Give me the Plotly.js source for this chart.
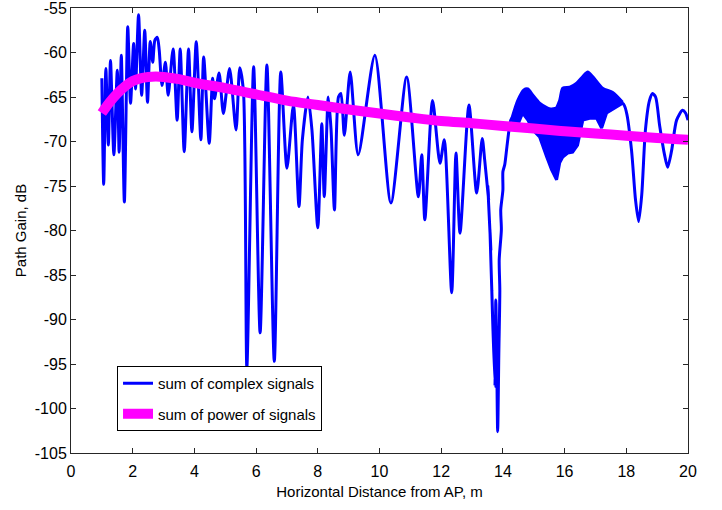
<!DOCTYPE html>
<html>
<head>
<meta charset="utf-8">
<script src="https://cdn.plot.ly/plotly-3.0.1.min.js"></script>
<style>
  html, body { margin: 0; padding: 0; background: #fff; }
  #chart { width: 722px; height: 510px; }
</style>
</head>
<body>
<div id="chart"></div>
<script>
// ---- Data ----
// Blue: "sum of complex signals" (peaks and troughs)
const complexX = [
  1.00,1.06,1.13,1.21,1.28,1.39,1.50,1.56,1.63,1.73,1.84,1.93,2.03,2.09,2.19,2.29,2.39,2.48,2.57,2.65,
  2.72,2.80,2.86,2.95,3.06,3.15,3.31,3.44,3.54,3.67,3.81,3.92,4.06,4.21,4.30,4.48,4.59,4.65,4.80,4.94,
  5.14,5.35,5.47,5.59,5.70,5.92,6.13,6.35,6.59,6.80,7.00,7.21,7.39,7.50,7.68,7.81,8.00,8.13,8.21,8.34,
  8.43,8.54,8.67,8.75,8.86,9.05,9.31,9.85,10.37,10.88,11.26,11.37,11.47,11.72,11.96,12.10,12.34,12.48,12.61,12.90,
  13.15,13.33,
  13.41,13.54,13.51,13.61,13.58,13.67,13.64,13.74,13.77,13.80,13.83,13.87,13.90,13.88,13.95,13.93,14.00,14.00,14.06,14.13,
  14.22,14.29,
  17.88,18.01,18.17,18.30,18.40,18.50,18.62,18.75,18.85,18.95,19.08,19.24,19.34,19.47,19.63,19.82,19.92,20.00
];
const complexY = [
  -62.9,-74.8,-61.8,-70.4,-60.9,-71.5,-62.0,-71.2,-60.3,-76.8,-57.1,-65.7,-59.0,-64.1,-55.75,-64.8,-57.5,-65.6,-58.75,-61.1,
  -58.6,-58.3,-59.75,-63.7,-61.1,-64.8,-59.6,-67.6,-59.6,-71.15,-59.6,-68.9,-58.8,-69.8,-60.5,-70.2,-62.9,-65.2,-62.3,-66.85,
  -61.8,-68.7,-61.7,-64.35,-95.4,-61.6,-91.5,-61.4,-94.7,-62.2,-73.0,-65.9,-77.3,-69.8,-65.0,-68.7,-79.7,-68.0,-76.2,-65.0,
  -68.7,-77.7,-65.0,-64.6,-69.3,-62.2,-71.5,-60.3,-76.9,-62.75,-76.2,-71.5,-78.8,-65.4,-72.45,-69.8,-87.0,-71.3,-80.3,-65.9,
  -75.8,-69.65,
  -72.1,-76.6,-74.9,-82.2,-79.9,-90.0,-86.7,-97.5,-87.8,-94.5,-102.6,-93.4,-86.7,-83.3,-79.9,-77.7,-75.45,-73.4,-72.6,-70.6,
  -68.2,-67.4,
  -65.7,-66.8,-71.0,-76.6,-79.0,-76.0,-68.7,-65.4,-64.6,-65.0,-68.2,-71.5,-72.9,-71.0,-67.6,-66.5,-66.8,-67.6
];

// Dense-oscillation band of the blue curve (upper and lower envelopes)
const bandUpperX = [14.29,14.48,14.68,14.81,14.97,15.19,15.45,15.68,15.84,15.94,16.17,16.39,16.59,16.75,16.91,17.23,17.56,17.88];
const bandUpperY = [-67.4,-65.4,-64.2,-64.1,-64.8,-65.7,-66.25,-66.5,-65.4,-64.0,-63.9,-63.45,-62.7,-62.2,-62.7,-64.0,-64.5,-65.6];
const bandLowerX = [14.29,14.45,14.64,14.81,14.97,15.19,15.42,15.58,15.74,15.84,15.94,16.10,16.26,16.42,16.59,16.81,17.04,17.20,17.36,17.69,17.88];
const bandLowerY = [-68.2,-68.4,-66.8,-67.6,-68.7,-69.5,-71.75,-73.2,-74.3,-72.4,-71.75,-71.3,-71.2,-70.4,-67.6,-67.4,-67.4,-68.5,-66.8,-66.1,-65.7];

// Magenta: "sum of power of signals"
const powerX = [1,1.25,1.5,1.75,2,2.25,2.5,2.75,3,3.5,4,5,6,7,8,9,10,11,12,13,14,15,16,17,18,19,20];
const powerY = [-66.8,-65.6,-64.6,-63.8,-63.2,-62.9,-62.75,-62.7,-62.75,-63.0,-63.4,-64.0,-64.7,-65.4,-65.9,-66.4,-66.85,-67.3,-67.7,-67.95,-68.25,-68.55,-68.85,-69.1,-69.35,-69.6,-69.8];

// Axis ticks
const xTicks = [0,2,4,6,8,10,12,14,16,18,20];
const yTicks = [-105,-100,-95,-90,-85,-80,-75,-70,-65,-60,-55];
const yTickText = ['-105','-100','-95','-90','-85','-80','-75','-70','-65','-60','-55'];

const seriesNames = ['sum of complex signals', 'sum of power of signals'];

// ---- Plot ----
const FONT = '"Liberation Sans Narrow", "Liberation Sans", Arial, sans-serif';
const BLUE = '#0000ff';
const MAGENTA = '#ff00ff';

const traces = [
  { x: complexX, y: complexY, type: 'scatter', mode: 'lines', name: seriesNames[0],
    line: { color: BLUE, width: 3, shape: 'spline', smoothing: 0.7 }, legendgroup: 'a', hoverinfo: 'skip' },
  { x: bandUpperX, y: bandUpperY, type: 'scatter', mode: 'lines', showlegend: false,
    line: { color: BLUE, width: 3, shape: 'spline', smoothing: 0.7 }, hoverinfo: 'skip' },
  { x: bandLowerX, y: bandLowerY, type: 'scatter', mode: 'lines', showlegend: false,
    line: { color: BLUE, width: 3 }, fill: 'tonexty', fillcolor: BLUE, hoverinfo: 'skip' },
  { x: powerX, y: powerY, type: 'scatter', mode: 'lines', name: seriesNames[1],
    line: { color: MAGENTA, width: 10, shape: 'spline' }, legendgroup: 'b', hoverinfo: 'skip' }
];

const axisCommon = {
  showline: true, linecolor: '#262626', linewidth: 1,
  mirror: 'ticks', ticks: 'inside', ticklen: 5, tickwidth: 1, tickcolor: '#262626',
  showgrid: false, zeroline: false, ticklabeloverflow: 'allow',
  tickfont: { family: FONT, size: 16, color: '#000' }
};

const layout = {
  width: 722, height: 510,
  margin: { l: 71, r: 34, t: 8, b: 57 },
  paper_bgcolor: '#fff', plot_bgcolor: '#fff',
  showlegend: true,
  xaxis: Object.assign({}, axisCommon, {
    range: [0, 20], tickmode: 'array', tickvals: xTicks, ticklabelstandoff: 4,
    title: { text: 'Horizontal Distance from AP, m', font: { family: FONT, size: 15, color: '#000' }, standoff: 7 }
  }),
  yaxis: Object.assign({}, axisCommon, {
    range: [-105, -55], tickmode: 'array', tickvals: yTicks, ticktext: yTickText,
    title: { text: 'Path Gain, dB', font: { family: FONT, size: 15, color: '#000' }, standoff: 4 }
  }),
  legend: {
    x: 0.0746, y: 0.1955, xanchor: 'left', yanchor: 'top',
    bgcolor: '#fff', bordercolor: '#000', borderwidth: 1,
    font: { family: FONT, size: 15, color: '#000' },
    traceorder: 'grouped', tracegroupgap: 8
  }
};

Plotly.newPlot('chart', traces, layout, { staticPlot: true, displayModeBar: false });
</script>
</body>
</html>
